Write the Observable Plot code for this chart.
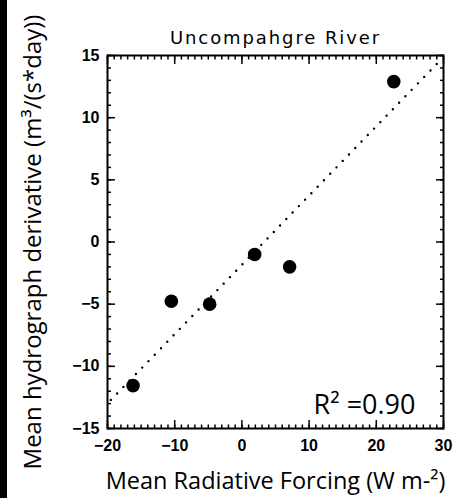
<!DOCTYPE html>
<html><head><meta charset="utf-8">
<script src="https://cdn.jsdelivr.net/npm/d3@7"></script>
<script src="https://cdn.jsdelivr.net/npm/@observablehq/plot@0.6"></script>
<style>
body{margin:0;background:#fff;}
#wrap{position:relative;width:462px;height:498px;overflow:hidden;}
#strip{position:absolute;left:0;top:0;width:7px;height:498px;background:#000;z-index:2;}
</style></head><body><div id="wrap"><div id="strip"></div></div>
<script>
// Data
const forcing = [-16.2, -10.5, -4.8, 1.9, 7.1, 22.6];      // Mean Radiative Forcing (W m-2)
const derivative = [-11.55, -4.77, -5.0, -1.0, -2.0, 12.9]; // Mean hydrograph derivative
const fitForcing = [-19.5, 29.5];   // dotted fit line ends (x)
const fitDerivative = [-12.7, 14.6]; // dotted fit line ends (y)
const xMajor = [-20, -10, 0, 10, 20, 30];
const yMajor = [-15, -10, -5, 0, 5, 10, 15];
const xMinor = d3.range(-20, 31, 1);
const yMinor = d3.range(-15, 16, 1);
const titleText = "Uncompahgre River";
const xTitle = "Mean Radiative Forcing (W m-²)";
const yTitle = "Mean hydrograph derivative (m³/(s*day))";
const r2Text = "R² =0.90";

const points = forcing.map((x, i) => ({x, y: derivative[i]}));
const fit = fitForcing.map((x, i) => ({x, y: fitDerivative[i]}));

const tickFont = {fontSize: 16, fontWeight: "bold", fontFamily: "Liberation Sans, Arial, sans-serif", fill: "black"};
const blank = () => "";

const marks = [
  Plot.line(fit, {x: "x", y: "y", stroke: "black", strokeWidth: 2.4, strokeDasharray: "0,9", strokeLinecap: "round"}),
  Plot.dot(points, {x: "x", y: "y", r: 6.8, fill: "black"}),
];
for (const side of ["bottom", "top"]) {
  marks.push(Plot.axisX(xMinor, {anchor: side, tickSize: -3.5, tickFormat: blank, label: null, strokeWidth: 1.5}));
  marks.push(Plot.axisX(xMajor, {anchor: side, tickSize: -8, tickFormat: blank, label: null, strokeWidth: 1.5}));
}
for (const side of ["left", "right"]) {
  marks.push(Plot.axisY(yMinor, {anchor: side, tickSize: -4, tickFormat: blank, label: null, strokeWidth: 1.5}));
  marks.push(Plot.axisY(yMajor, {anchor: side, tickSize: -8, tickFormat: blank, label: null, strokeWidth: 1.5}));
}
marks.push(Plot.axisX(xMajor, {anchor: "bottom", tickSize: 0, tickPadding: 11, label: null, ...tickFont}));
marks.push(Plot.axisY(yMajor, {anchor: "left", tickSize: 0, tickPadding: 8, label: null, ...tickFont}));
marks.push(Plot.frame({stroke: "black", strokeWidth: 2}));
marks.push(Plot.text([titleText], {frameAnchor: "top", dy: -17.5, lineAnchor: "middle", fontSize: 18, fontFamily: "DejaVu Sans, sans-serif", fill: "black"}));
marks.push(Plot.text([xTitle], {frameAnchor: "bottom", dy: 53, textAnchor: "middle", lineAnchor: "middle", fontSize: 23.5, fontFamily: "Open Sans, sans-serif", fill: "black"}));
marks.push(Plot.text([yTitle], {frameAnchor: "left", dx: -74, rotate: -90, textAnchor: "middle", lineAnchor: "middle", fontSize: 24, fontFamily: "Open Sans, sans-serif", fill: "black"}));
marks.push(Plot.text([r2Text], {frameAnchor: "bottom-right", dx: -28, dy: -23, textAnchor: "end", lineAnchor: "middle", fontSize: 27, fontFamily: "Open Sans, sans-serif", fill: "black"}));

const chart = Plot.plot({
  width: 462, height: 498,
  marginLeft: 107, marginRight: 19, marginTop: 55, marginBottom: 70,
  x: {domain: [-20, 30], label: null},
  y: {domain: [-15, 15], label: null},
  style: {background: "white", overflow: "visible"},
  marks
});
chart.querySelectorAll('text').forEach(t => { if (t.textContent === titleText) t.setAttribute("letter-spacing", "1.9"); });
document.getElementById("wrap").prepend(chart);
</script></body></html>
